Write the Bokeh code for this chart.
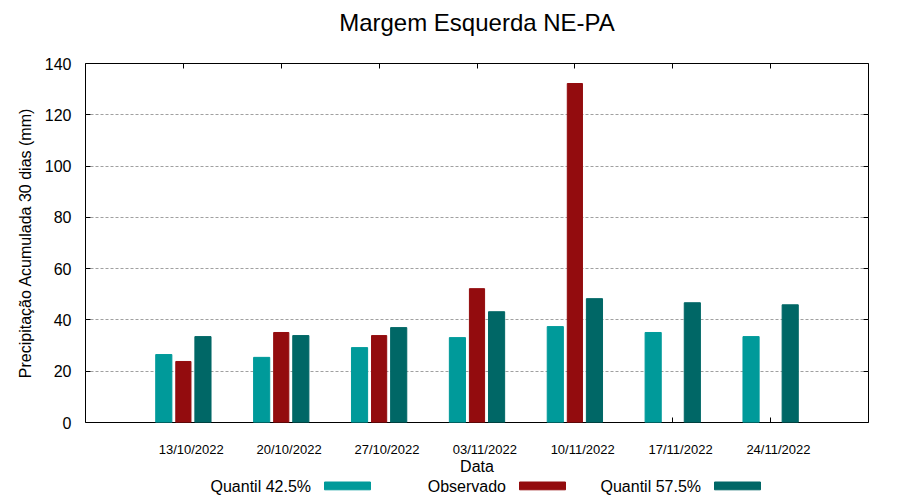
from bokeh.plotting import figure
from bokeh.models import Range1d, FixedTicker, LinearAxis
from bokeh.layouts import column
from bokeh.transform import dodge
from bokeh.core.properties import value
from bokeh.embed import file_html
from bokeh.resources import INLINE
import math

# ---- data ----
dates = ["13/10/2022", "20/10/2022", "27/10/2022", "03/11/2022",
         "10/11/2022", "17/11/2022", "24/11/2022"]
q425 = [26.5, 25.4, 29.2, 33.1, 37.4, 35.1, 33.5]
observado = [23.8, 35.1, 33.9, 52.2, 132.2, math.nan, math.nan]
q575 = [33.5, 33.9, 37.0, 43.2, 48.3, 46.7, 45.9]
y_ticks = [0, 20, 40, 60, 80, 100, 120, 140]
legend_labels = ["Quantil 42.5%", "Observado", "Quantil 57.5%"]
colors = ["#009a9a", "#930c0e", "#006766"]

FONT = value("Liberation Sans")
pos = list(range(1, len(dates) + 1))
src = dict(x=pos, q425=q425, obs=observado, q575=q575)

p = figure(width=900, height=477, output_backend="svg", toolbar_location=None,
           x_range=Range1d(0, len(dates) + 1), y_range=Range1d(0, 140),
           min_border_left=85, min_border_right=32, min_border_top=63,
           min_border_bottom=54, x_axis_type=None)
p.title.text = "Margem Esquerda NE-PA"
p.title.align = "center"
p.title.vertical_align = "top"
p.title.text_font = "Liberation Sans"
p.title.text_font_size = "24px"
p.title.text_font_style = "normal"
p.title.text_color = "black"
p.title.standoff = 0

p.vbar(x=dodge("x", -0.2, range=p.x_range), top="q425", width=0.165,
       source=src, color=colors[0])
p.vbar(x=dodge("x", 0.0, range=p.x_range), top="obs", width=0.155,
       source=src, color=colors[1])
p.vbar(x=dodge("x", 0.2, range=p.x_range), top="q575", width=0.165,
       source=src, color=colors[2])

p.outline_line_color = "black"
p.outline_line_width = 1
p.background_fill_color = "white"
p.border_fill_color = "white"

# grid
p.ygrid.ticker = FixedTicker(ticks=y_ticks[1:-1])
p.ygrid.grid_line_color = "#a0a0a0"
p.ygrid.grid_line_dash = "3 2"
p.ygrid.grid_line_width = 1


def tick_only_axis(ticks, tick_in=5, tick_out=0, color="black"):
    return LinearAxis(ticker=FixedTicker(ticks=ticks),
                      major_label_overrides={t: "" for t in ticks},
                      major_label_text_font_size="1px",
                      major_tick_in=tick_in, major_tick_out=tick_out,
                      minor_tick_line_color=None, axis_line_color=None,
                      major_label_standoff=0, major_tick_line_color=color)


# bottom: inward ticks (behind the bars) + labelled axis
bt = tick_only_axis(pos)
bt.level = "underlay"
p.add_layout(bt, "below")

label_pos = [x + 0.08 for x in pos]
xa = LinearAxis(ticker=FixedTicker(ticks=label_pos),
                major_label_overrides={t: d for t, d in zip(label_pos, dates)})
xa.major_label_text_font = "Liberation Sans"
xa.major_label_text_font_size = "13px"
xa.major_label_text_color = "black"
xa.major_label_standoff = 13
xa.major_tick_line_color = None
xa.minor_tick_line_color = None
xa.axis_line_color = None
xa.axis_label = "Data"
xa.axis_label_text_font = "Liberation Sans"
xa.axis_label_text_font_size = "16px"
xa.axis_label_text_font_style = "normal"
xa.axis_label_text_color = "black"
xa.axis_label_standoff = -2
p.add_layout(xa, "below")

# y axis
ya = p.yaxis[0]
ya.ticker = FixedTicker(ticks=y_ticks)
ya.major_label_text_font = "Liberation Sans"
ya.major_label_text_font_size = "16px"
ya.major_label_text_color = "black"
ya.major_label_standoff = 14
ya.major_tick_in = 5
ya.major_tick_out = 0
ya.minor_tick_line_color = None
ya.axis_line_color = None
ya.axis_label = "Precipitação Acumulada 30 dias (mm)"
ya.axis_label_text_font = "Liberation Sans"
ya.axis_label_text_font_size = "16px"
ya.axis_label_text_font_style = "normal"
ya.axis_label_text_color = "black"
ya.axis_label_standoff = 8

# mirrored ticks; an invisible spacer keeps the title clear of the frame
p.add_layout(tick_only_axis(y_ticks), "right")
p.add_layout(tick_only_axis(pos), "above")
p.add_layout(tick_only_axis(pos, tick_in=0, tick_out=26, color=None), "above")

# legend strip (label then swatch, as in the original); coords in page px
lg = figure(width=900, height=23, output_backend="svg", toolbar_location=None,
            x_range=Range1d(85, 868), y_range=Range1d(500, 477),
            min_border_left=0, min_border_right=0, min_border_top=0,
            min_border_bottom=0, x_axis_type=None, y_axis_type=None)
lg.grid.visible = False
lg.outline_line_color = None
text_right = [310.5, 505.5, 700.5]
sw_left = [324, 519, 714]
lg.text(x=text_right, y=[485.5] * 3, text=legend_labels, text_align="right",
        text_baseline="middle", text_font=FONT, text_font_size="16px",
        text_color="black")
lg.quad(left=sw_left, right=[l + 46 for l in sw_left], top=[481.5] * 3,
        bottom=[489.3] * 3, color=colors)

layout = column(p, lg, spacing=0)
open("out.html", "w").write(file_html(layout, INLINE))
